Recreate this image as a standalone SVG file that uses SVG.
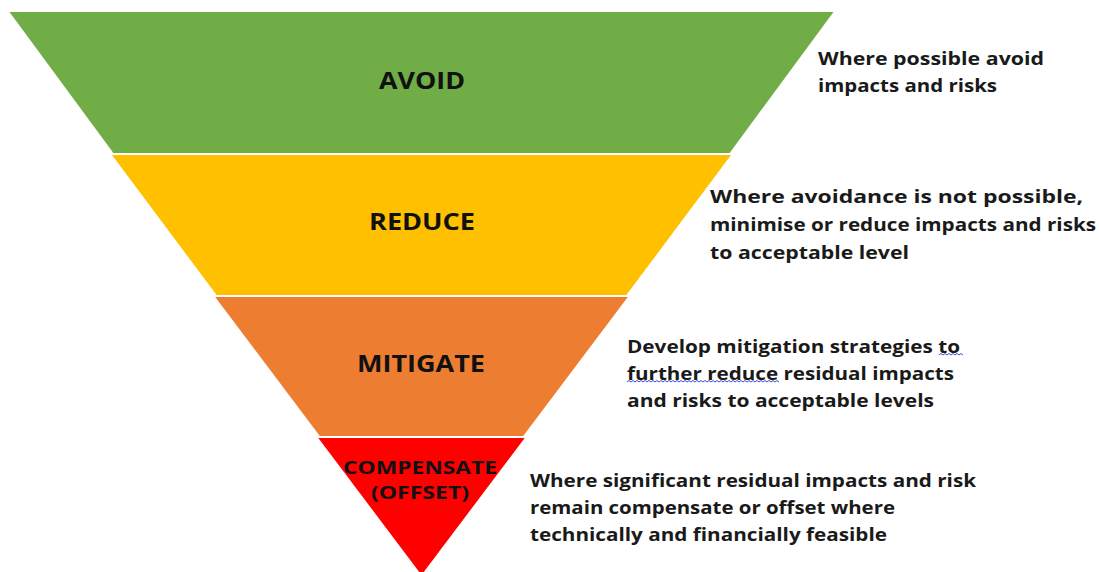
<svg xmlns="http://www.w3.org/2000/svg" width="1099" height="572" viewBox="0 0 1099 572">
<style>
.lbl{font-family:"Open Sans","Liberation Sans",sans-serif;font-weight:700;fill:#111;text-anchor:middle}
.big{font-size:23px}
.sm{font-size:18px}
.desc{font-family:"Open Sans","Liberation Sans",sans-serif;font-weight:700;font-size:18px;fill:#1a1a1a}
.wave{fill:none;stroke:#3b4fd8;stroke-width:1}
</style>
<rect width="1099" height="572" fill="#fff"/>
<g id="avoid">
<polygon points="9.5,12 833.5,12 729.6,153 113.4,153" fill="#70AD47"/>
<text class="lbl big" x="422" y="89" textLength="86" lengthAdjust="spacingAndGlyphs">AVOID</text>
</g>
<g id="reduce">
<polygon points="112,155 731,155 626.4,295 216.6,295" fill="#FFC000"/>
<text class="lbl big" x="422" y="230" textLength="106" lengthAdjust="spacingAndGlyphs">REDUCE</text>
</g>
<g id="mitigate">
<polygon points="215.2,297 627.8,297 523.2,436 319.8,436" fill="#ED7D31"/>
<text class="lbl big" x="421" y="372" textLength="128" lengthAdjust="spacingAndGlyphs">MITIGATE</text>
</g>
<g id="compensate">
<polygon points="318.3,438 524.7,438 421.5,575" fill="#FF0000"/>
<text class="lbl sm" x="420" y="474" textLength="154" lengthAdjust="spacingAndGlyphs">COMPENSATE</text>
<text class="lbl sm" x="420" y="499" textLength="98" lengthAdjust="spacingAndGlyphs">(OFFSET)</text>
</g>
<g id="desc-avoid">
<text class="desc" x="818" y="65" textLength="226" lengthAdjust="spacingAndGlyphs">Where possible avoid</text>
<text class="desc" x="818" y="92" textLength="179" lengthAdjust="spacingAndGlyphs">impacts and risks</text>
</g>
<g id="desc-reduce">
<text class="desc" x="710" y="203" textLength="373" lengthAdjust="spacingAndGlyphs">Where avoidance is not possible,</text>
<text class="desc" x="710" y="231" textLength="386" lengthAdjust="spacingAndGlyphs">minimise or reduce impacts and risks</text>
<text class="desc" x="710" y="259" textLength="199" lengthAdjust="spacingAndGlyphs">to acceptable level</text>
</g>
<g id="desc-mitigate">
<text class="desc" x="627" y="353" textLength="333" lengthAdjust="spacingAndGlyphs">Develop mitigation strategies to</text>
<text class="desc" x="627" y="380" textLength="327" lengthAdjust="spacingAndGlyphs">further reduce residual impacts</text>
<text class="desc" x="627" y="407" textLength="307" lengthAdjust="spacingAndGlyphs">and risks to acceptable levels</text>
<path class="wave" d="M939,355 l2,-1.5 l2,1.5 l2,-1.5 l2,1.5 l2,-1.5 l2,1.5 l2,-1.5 l2,1.5 l2,-1.5 l2,1.5 l2,-1.5 l2,1.5"/>
<path class="wave" d="M627,382 l2,-1.5 l2,1.5 l2,-1.5 l2,1.5 l2,-1.5 l2,1.5 l2,-1.5 l2,1.5 l2,-1.5 l2,1.5 l2,-1.5 l2,1.5 l2,-1.5 l2,1.5 l2,-1.5 l2,1.5 l2,-1.5 l2,1.5 l2,-1.5 l2,1.5 l2,-1.5 l2,1.5 l2,-1.5 l2,1.5 l2,-1.5 l2,1.5 l2,-1.5 l2,1.5 l2,-1.5 l2,1.5 l2,-1.5 l2,1.5 l2,-1.5 l2,1.5 l2,-1.5 l2,1.5 l2,-1.5 l2,1.5 l2,-1.5 l2,1.5 l2,-1.5 l2,1.5 l2,-1.5 l2,1.5 l2,-1.5 l2,1.5 l2,-1.5 l2,1.5 l2,-1.5 l2,1.5 l2,-1.5 l2,1.5 l2,-1.5 l2,1.5 l2,-1.5 l2,1.5 l2,-1.5 l2,1.5 l2,-1.5 l2,1.5 l2,-1.5 l2,1.5 l2,-1.5 l2,1.5 l2,-1.5 l2,1.5 l2,-1.5 l2,1.5 l2,-1.5 l2,1.5 l2,-1.5 l2,1.5 l2,-1.5 l2,1.5 l2,-1.5 l2,1.5"/>
</g>
<g id="desc-compensate">
<text class="desc" x="530" y="487" textLength="446" lengthAdjust="spacingAndGlyphs">Where significant residual impacts and  risk</text>
<text class="desc" x="530" y="514" textLength="365" lengthAdjust="spacingAndGlyphs">remain compensate or offset where</text>
<text class="desc" x="530" y="541" textLength="357" lengthAdjust="spacingAndGlyphs">technically and financially feasible</text>
</g>
<g id="connectors"></g>
</svg>
